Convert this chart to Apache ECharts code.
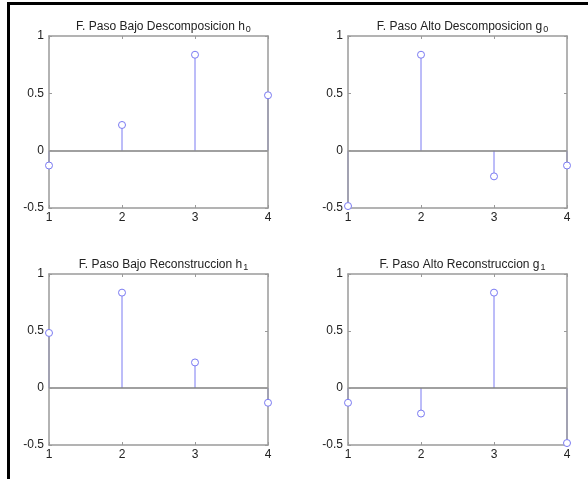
<!DOCTYPE html>
<html>
<head>
<meta charset="utf-8">
<script src="https://cdn.jsdelivr.net/npm/echarts@6/dist/echarts.min.js"></script>
<style>
  html, body { margin: 0; padding: 0; background: #fff; }
  #chart { width: 588px; height: 479px; }
</style>
</head>
<body>
<div id="chart"></div>
<script>
// 数据
var xTicks = [1, 2, 3, 4];
var yTicks = [-0.5, 0, 0.5, 1];
var h0 = [-0.1294, 0.2241, 0.8365, 0.4830];
var g0 = [-0.4830, 0.8365, -0.2241, -0.1294];
var h1 = [0.4830, 0.8365, 0.2241, -0.1294];
var g1 = [-0.1294, -0.2241, 0.8365, -0.4830];

var titles = [
  ['F. Paso Bajo Descomposicion h', '0'],
  ['F. Paso Alto Descomposicion g', '0'],
  ['F. Paso Bajo Reconstruccion h', '1'],
  ['F. Paso Alto Reconstruccion g', '1']
];
var seriesData = [h0, g0, h1, g1];

// 每个子图的位置
var boxes = [
  { left: 49, top: 36, width: 219, height: 172 },
  { left: 348, top: 36, width: 219, height: 172 },
  { left: 49, top: 274, width: 219, height: 171 },
  { left: 348, top: 274, width: 219, height: 171 }
];

var stemColor = '#7a7af2';
var boxColor = '#9a9a9a';
var font = 'Liberation Sans, Arial, sans-serif';

var grid = [], xAxis = [], yAxis = [], series = [], title = [];

boxes.forEach(function (b, i) {
  grid.push({ left: b.left, top: b.top, width: b.width, height: b.height, show: false });
  title.push({
    text: '{a|' + titles[i][0] + '}{s|' + titles[i][1] + '}',
    left: b.left + b.width / 2,
    top: b.top - 22,
    textAlign: 'center',
    textStyle: {
      fontWeight: 'normal',
      rich: {
        a: { fontFamily: font, fontSize: 12, fontWeight: 'normal', color: '#222' },
        s: { fontFamily: font, fontSize: 9, fontWeight: 'normal', color: '#222', verticalAlign: 'bottom', padding: [6, 0, 0, 1] }
      }
    }
  });
  ['bottom', 'top'].forEach(function (pos) {
    xAxis.push({
      type: 'value', gridIndex: i, position: pos,
      min: 1, max: 4, interval: 1,
      axisLine: { show: true, onZero: false, lineStyle: { color: boxColor, width: 1.5 } },
      axisTick: { show: true, inside: true, length: 3, lineStyle: { color: boxColor } },
      axisLabel: { show: pos === 'bottom', color: '#222', fontFamily: font, fontSize: 12, margin: 4 },
      splitLine: { show: false },
      z: 5
    });
  });
  ['left', 'right'].forEach(function (pos) {
    yAxis.push({
      type: 'value', gridIndex: i, position: pos,
      min: -0.5, max: 1, interval: 0.5,
      axisLine: { show: true, onZero: false, lineStyle: { color: boxColor, width: 1.5 } },
      axisTick: { show: true, inside: true, length: 3, lineStyle: { color: boxColor } },
      axisLabel: { show: pos === 'left', color: '#222', fontFamily: font, fontSize: 12, margin: 5 },
      splitLine: { show: false },
      z: 5
    });
  });

  var pts = seriesData[i].map(function (v, k) { return [xTicks[k], v]; });

  // 茎线
  series.push({
    type: 'custom',
    xAxisIndex: i * 2, yAxisIndex: i * 2,
    data: pts,
    silent: true,
    renderItem: function (params, api) {
      var p0 = api.coord([api.value(0), 0]);
      var p1 = api.coord([api.value(0), api.value(1)]);
      return {
        type: 'line',
        shape: { x1: p0[0], y1: p0[1], x2: p1[0], y2: p1[1] },
        style: { stroke: stemColor, lineWidth: 1 }
      };
    },
    z: 3
  });
  // 圆圈 + 零线
  series.push({
    type: 'scatter',
    xAxisIndex: i * 2, yAxisIndex: i * 2,
    data: pts,
    symbol: 'circle',
    symbolSize: 7,
    itemStyle: { color: '#fff', borderColor: stemColor, borderWidth: 1, opacity: 1 },
    silent: true,
    z: 6,
    markLine: {
      silent: true,
      symbol: 'none',
      label: { show: false },
      lineStyle: { color: '#808080', width: 1.5, type: 'solid' },
      data: [{ yAxis: 0 }],
      animation: false
    }
  });
});

var myChart = echarts.init(document.getElementById('chart'));
var option = {
  animation: false,
  backgroundColor: '#fff',
  title: title,
  grid: grid,
  xAxis: xAxis,
  yAxis: yAxis,
  series: series,
  graphic: [
    // 外框（上、左）
    { type: 'rect', shape: { x: 7, y: 2, width: 581, height: 3 }, style: { fill: '#000' } },
    { type: 'rect', shape: { x: 7, y: 2, width: 3, height: 477 }, style: { fill: '#000' } }
  ]
};
myChart.setOption(option);
</script>
</body>
</html>
